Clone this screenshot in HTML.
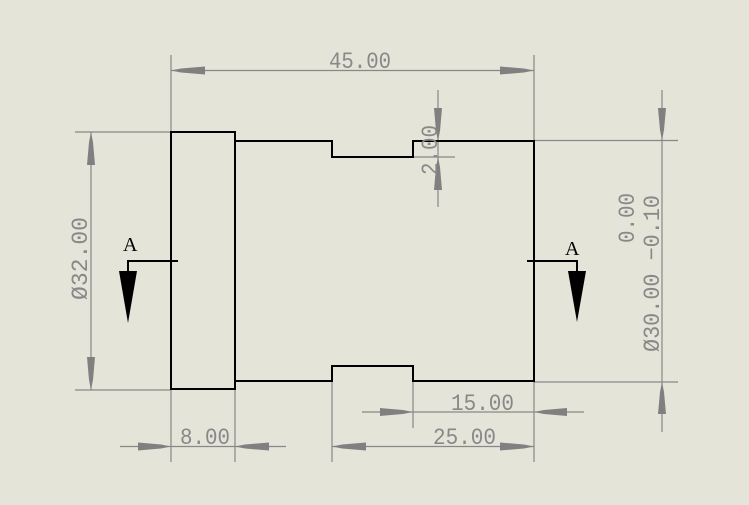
<!DOCTYPE html>
<html><head><meta charset="utf-8"><style>
html,body{margin:0;padding:0;background:#e4e4d9;}
svg{display:block}
text{font-family:"Liberation Mono","Noto Serif CJK SC",monospace;font-size:23px;fill:#888}
</style></head><body>
<svg width="749" height="505" viewBox="0 0 749 505" xmlns="http://www.w3.org/2000/svg">
<rect width="749" height="505" fill="#e4e4d9"/>
<g stroke="#888" stroke-width="1.2" fill="none">
<line x1="171" y1="55" x2="171" y2="132"/><line x1="534" y1="55" x2="534" y2="141"/>
<line x1="171" y1="70.5" x2="534" y2="70.5"/>
<line x1="75" y1="132" x2="171" y2="132"/><line x1="75" y1="390" x2="171" y2="390"/>
<line x1="91" y1="132" x2="91" y2="390"/>
<line x1="438" y1="90" x2="438" y2="207"/><line x1="413" y1="157" x2="455" y2="157"/>
<line x1="534" y1="140.5" x2="678" y2="140.5"/><line x1="534" y1="382" x2="678" y2="382"/>
<line x1="662" y1="90" x2="662" y2="432"/>
<line x1="171" y1="390" x2="171" y2="462"/><line x1="235" y1="390" x2="235" y2="462"/>
<line x1="120" y1="446.5" x2="286" y2="446.5"/>
<line x1="332" y1="382" x2="332" y2="462"/><line x1="534" y1="382" x2="534" y2="462"/>
<line x1="332" y1="446.5" x2="534" y2="446.5"/>
<line x1="413" y1="382" x2="413" y2="428"/>
<line x1="362" y1="412" x2="584" y2="412"/>
</g>
<g fill="#808080">
<polygon points="171,70.5 181,68.5 205,66.5 205,74.5 181,72.5"/>
<polygon points="534,70.5 524,68.5 500,66.5 500,74.5 524,72.5"/>
<polygon points="171,446.5 161,444.5 138,442.5 138,450.5 161,448.5"/>
<polygon points="235,446.5 245,444.5 269,442.5 269,450.5 245,448.5"/>
<polygon points="332,446.5 342,444.5 366,442.5 366,450.5 342,448.5"/>
<polygon points="534,446.5 524,444.5 500,442.5 500,450.5 524,448.5"/>
<polygon points="413,412 403,410 380,408 380,416 403,414"/>
<polygon points="534,412 544,410 567,408 567,416 544,414"/>
<polygon points="91,132 89,142 87,165 95,165 93,142"/>
<polygon points="91,390 89,380 87,357 95,357 93,380"/>
<polygon points="438,141 436,131 434,108 442,108 440,131"/>
<polygon points="438,157 436,167 434,190 442,190 440,167"/>
<polygon points="662,140.5 660,130 658,108 666,108 664,130"/>
<polygon points="662,382 660,392 658,414 666,414 664,392"/>
</g>
<g stroke="#000" stroke-width="2" fill="none">
<rect x="171" y="132" width="64" height="257"/>
<polyline points="235,141 332,141 332,157 413,157 413,141 534,141 534,381 413,381 413,366 332,366 332,381 235,381"/>
<polyline points="178,261 128,261 128,271"/>
<polyline points="527,261 577,261 577,271"/>
</g>
<polygon points="119,271 137,271 128,323" fill="#000"/>
<polygon points="568,271 586,271 577,322" fill="#000"/>
<text x="123" y="251" style="fill:#000;font-family:'Liberation Serif',serif;font-size:20px">A</text>
<text x="565" y="255" style="fill:#000;font-family:'Liberation Serif',serif;font-size:20px">A</text>
<text x="329" y="68" textLength="62" lengthAdjust="spacingAndGlyphs">45.00</text>
<text x="180" y="444" textLength="50" lengthAdjust="spacingAndGlyphs">8.00</text>
<text x="451" y="410" textLength="63" lengthAdjust="spacingAndGlyphs">15.00</text>
<text x="433" y="444" textLength="63" lengthAdjust="spacingAndGlyphs">25.00</text>
<text transform="translate(87,300) rotate(-90)" textLength="83" lengthAdjust="spacingAndGlyphs">Ø32.00</text>
<text transform="translate(437,175) rotate(-90)" textLength="50" lengthAdjust="spacingAndGlyphs">2.00</text>
<text transform="translate(659,352) rotate(-90)" textLength="157" lengthAdjust="spacingAndGlyphs">Ø30.00 −0.10</text>
<text transform="translate(634,243) rotate(-90)" textLength="50" lengthAdjust="spacingAndGlyphs">0.00</text>
</svg>
</body></html>
